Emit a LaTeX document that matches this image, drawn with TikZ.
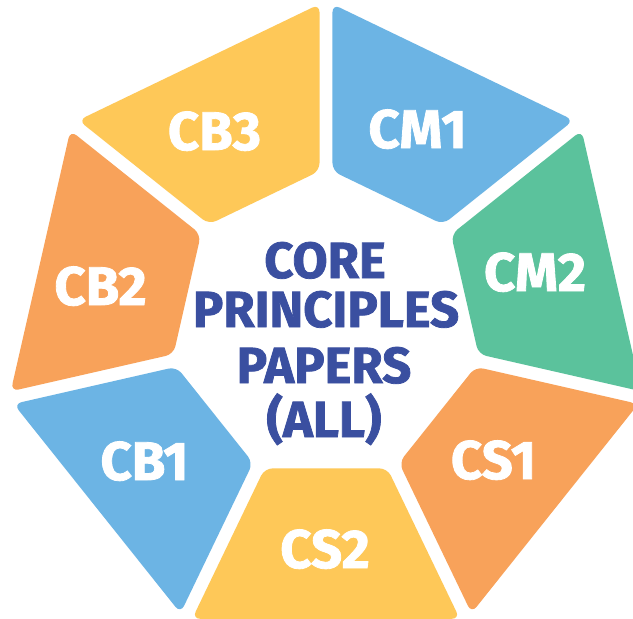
\documentclass[tikz,border=0pt]{standalone}
\usepackage{fontspec}
\setmainfont{Fira Sans}[BoldFeatures={FakeBold=1.5}]
\usetikzlibrary{calc}
\definecolor{segyellow}{RGB}{254,200,88}
\definecolor{segblue}{RGB}{108,180,228}
\definecolor{segorange}{RGB}{248,162,90}
\definecolor{seggreen}{RGB}{91,194,156}
\definecolor{coreblue}{RGB}{58,79,160}
\begin{document}
\begin{tikzpicture}[x=1pt,y=1pt,
  seglabel/.style={text=white,font=\bfseries\fontsize{54.4}{60}\selectfont,anchor=base,inner sep=0pt},
  coretext/.style={text=coreblue,font=\bfseries\fontsize{50.8}{56}\selectfont,anchor=base,inner sep=0pt},
  segshape/.style={rounded corners=8pt}]
\clip (0,0) rectangle (633,-619);
\fill[white] (0,0) rectangle (633,-619);
\begin{scope}[shift={(326,-326)}]
\foreach \a/\b/\c in {90/38.5714/segblue, 38.5714/-12.8571/seggreen, -12.8571/-64.2857/segorange, -64.2857/-115.7143/segyellow, -115.7143/-167.1429/segblue, -167.1429/-218.5714/segorange, -218.5714/-270/segyellow}{
  \coordinate (o1) at (\a:325);
  \coordinate (o2) at (\b:325);
  \coordinate (i1) at (\a:158);
  \coordinate (i2) at (\b:158);
  \fill[\c, segshape] ($(o1)!7.2pt!(o2)$) -- ($(o2)!7.2pt!(o1)$) -- ($(i2)!7.2pt!(i1)$) -- ($(i1)!7.2pt!(i2)$) -- cycle;
}
\end{scope}
\node[seglabel] (cb3) at (214.5,-150) {CB3};
\node[seglabel] (cm1) at (417.5,-148) {CM1};
\node[seglabel] (cm2) at (535,-291) {CM2};
\node[seglabel] (cb2) at (100.5,-305) {CB2};
\node[seglabel] (cb1) at (144.5,-480) {CB1};
\node[seglabel] (cs1) at (493.5,-479) {CS1};
\node[seglabel] (cs2) at (325,-568) {CS2};
\node[coretext] (core) at (325,-278) {CORE};
\node[coretext] (principles) at (326,-327) {PRINCIPLES};
\node[coretext] (papers) at (324,-383) {PAPERS};
\node[coretext] (all) at (324,-437) {(ALL)};
\end{tikzpicture}
\end{document}
